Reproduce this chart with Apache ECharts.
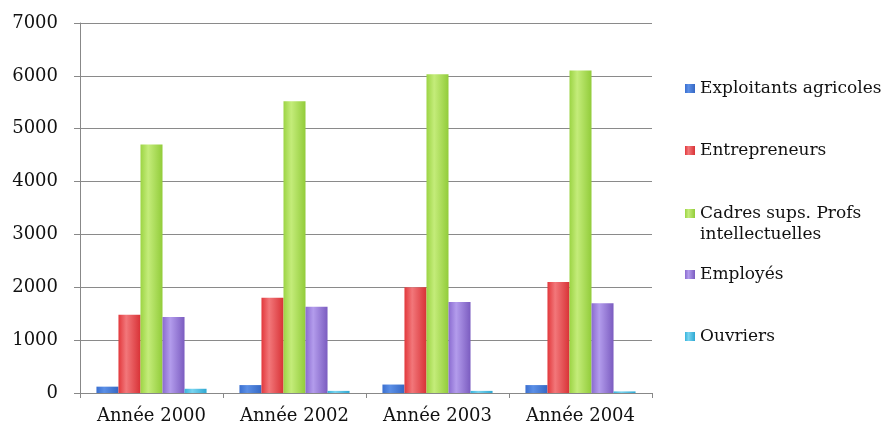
<!DOCTYPE html>
<html>
<head>
<meta charset="utf-8">
<script src="https://cdn.jsdelivr.net/npm/echarts@6/dist/echarts.min.js"></script>
<style>
  html, body { margin: 0; padding: 0; background: #fff; }
  #chart { width: 889px; height: 427px; }
</style>
</head>
<body>
<div id="chart"></div>
<script>
// Categories (years) and values per socio-professional group
const categories = ['Année 2000', 'Année 2002', 'Année 2003', 'Année 2004'];
const exploitants = [120, 150, 160, 150];
const entrepreneurs = [1480, 1800, 2000, 2100];
const cadres = [4700, 5520, 6030, 6100];
const employes = [1440, 1630, 1720, 1700];
const ouvriers = [80, 40, 40, 30];
const seriesNames = ['Exploitants agricoles', 'Entrepreneurs', 'Cadres sups. Profs', 'Employés', 'Ouvriers'];
const cadresSecondLine = 'intellectuelles';
const yTicks = [0, 1000, 2000, 3000, 4000, 5000, 6000, 7000];

const FONT = 'DejaVu Serif';
const palette = [
  ['#3a6fd0', '#5b8fe6', '#3568c4'],
  ['#e2383c', '#f2777a', '#d83236'],
  ['#9cd444', '#c4ec7a', '#92cc3a'],
  ['#8a6bd0', '#b39cec', '#7b5cc0'],
  ['#38b4dc', '#78d4f0', '#2ea8d2']
];
function grad(c) {
  return new echarts.graphic.LinearGradient(0, 0, 1, 0, [
    { offset: 0, color: c[0] },
    { offset: 0.35, color: c[1] },
    { offset: 1, color: c[2] }
  ]);
}
const dataSets = [exploitants, entrepreneurs, cadres, employes, ouvriers];
const series = dataSets.map((d, i) => ({
  name: seriesNames[i],
  type: 'bar',
  data: d,
  barGap: '0%',
  barCategoryGap: '23%',
  itemStyle: { color: grad(palette[i]) }
}));

// One legend block per entry so each can sit at its own height
const legendTops = [75, 137, 200, 261, 323];
const legends = seriesNames.map((n, i) => ({
  data: [n],
  left: 680,
  top: legendTops[i],
  orient: 'vertical',
  icon: 'rect',
  itemWidth: 10,
  itemHeight: 9,
  itemGap: 0,
  textStyle: { fontFamily: FONT, fontSize: 17, color: '#111' },
  selectedMode: false
}));

const chart = echarts.init(document.getElementById('chart'), null, { renderer: 'canvas' });
chart.setOption({
  animation: false,
  color: palette.map(p => p[1]),
  grid: { left: 80, right: 237, top: 23, bottom: 34 },
  legend: legends,
  graphic: [{
    type: 'text',
    left: 700,
    top: 226,
    style: { text: cadresSecondLine, font: '17px "DejaVu Serif"', fill: '#111' }
  }],
  xAxis: {
    type: 'category',
    data: categories,
    axisLine: { lineStyle: { color: '#888', width: 1 } },
    axisTick: { show: true, length: 5, lineStyle: { color: '#888' } },
    axisLabel: { fontFamily: FONT, fontSize: 18, color: '#111', margin: 14 }
  },
  yAxis: {
    type: 'value',
    min: yTicks[0],
    max: yTicks[yTicks.length - 1],
    interval: 1000,
    axisLine: { show: true, lineStyle: { color: '#888', width: 1 } },
    axisTick: { show: true, length: 6, lineStyle: { color: '#888' } },
    axisLabel: { fontFamily: FONT, fontSize: 18, color: '#111', margin: 22, formatter: v => String(v) },
    splitLine: { lineStyle: { color: '#8a8a8a', width: 1 } }
  },
  series: series
});
</script>
</body>
</html>
